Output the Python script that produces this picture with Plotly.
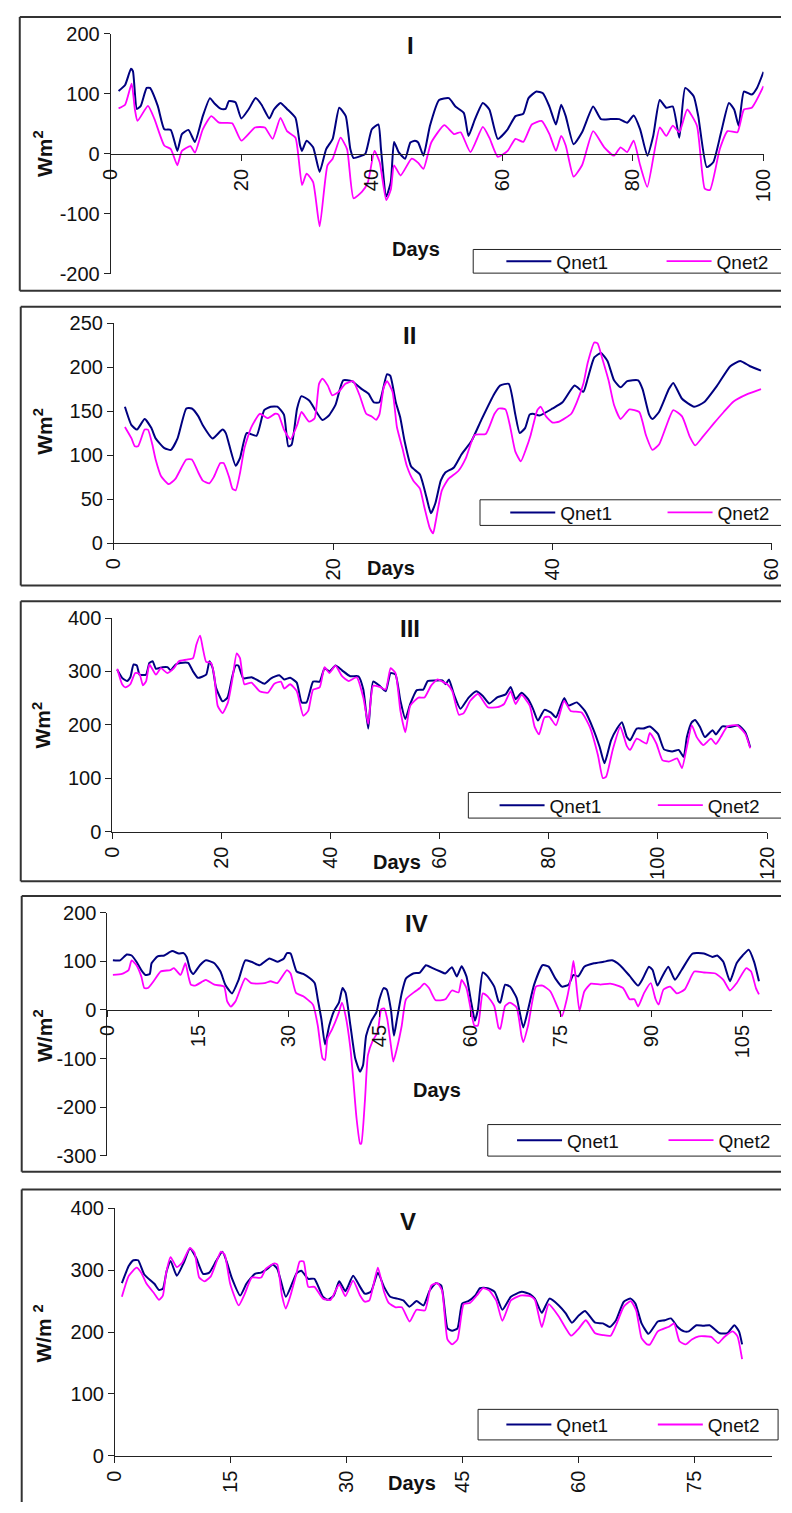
import plotly.graph_objects as go

W, H = 792, 1513
NAVY = "#000080"
MAGENTA = "#FF00FF"
FONT = "Liberation Sans, Arial, sans-serif"

# ---- Net heat flux series: (day, W/m^2) ----
P1_QNET1 = [(1.2, 105), (2.2, 115), (3.1, 142), (3.4, 138), (4.0, 75), (4.6, 80), (5.5, 110), (6.0, 110),
            (7.2, 80), (8.2, 41), (9.2, 40), (10.2, 5), (10.9, 33), (11.9, 40), (12.9, 20), (14.1, 63),
            (15.2, 93), (15.9, 84), (16.9, 75), (17.6, 75), (18.1, 88), (19.1, 86), (20.0, 59), (21.1, 74),
            (22.2, 93), (23.1, 82), (24.3, 59), (25.0, 74), (26.0, 85), (27.0, 75), (28.3, 60), (29.0, 14),
            (29.3, 5), (30.0, 22), (31.0, 11), (32.0, -30), (33.0, 8), (34.0, 25), (35.0, 77), (36.0, 63),
            (36.7, 8), (37.2, -7), (38.2, -4), (39.0, 0), (40.0, 41), (41.0, 49), (41.4, 8), (42.2, -71),
            (42.9, -47), (43.4, 20), (44.1, 3), (45.1, -8), (45.9, 19), (46.6, 22), (47.1, 19), (47.9, -3),
            (48.9, 47), (50.3, 90), (51.8, 93), (52.8, 79), (54.1, 68), (54.8, 30), (55.8, 58), (57.0, 85),
            (58.0, 74), (59.3, 25), (60.8, 41), (62.0, 63), (63.2, 67), (64.0, 93), (65.2, 104), (66.2, 101),
            (67.2, 79), (68.2, 49), (69.0, 82), (69.7, 63), (70.9, 16), (72.2, 36), (73.9, 79), (75.1, 58),
            (76.6, 58), (77.9, 58), (79.1, 52), (80.1, 64), (81.1, 41), (82.2, -3), (83.1, 30), (84.1, 90),
            (85.1, 77), (86.1, 79), (87.1, 27), (88.0, 110), (89.3, 96), (90.0, 63), (91.3, -22), (92.3, -14),
            (93.5, 36), (94.7, 85), (95.5, 74), (96.2, 47), (97.0, 104), (98.2, 99), (99.0, 110), (100.0, 137)]
P1_QNET2 = [(1.2, 76), (2.2, 82), (3.2, 117), (3.7, 74), (4.1, 55), (5.7, 80), (6.7, 58), (8.2, 14),
            (9.2, 8), (10.2, -19), (10.9, 5), (12.2, 13), (12.9, 2), (14.1, 41), (15.4, 63), (16.6, 52),
            (18.6, 51), (20.0, 22), (22.1, 44), (23.6, 44), (24.8, 25), (26.0, 60), (27.0, 38), (28.3, 27),
            (29.3, -52), (30.0, -33), (31.0, -47), (32.0, -121), (33.2, -19), (34.0, -8), (35.2, 27), (36.2, 8),
            (37.2, -74), (38.5, -63), (39.4, -47), (40.4, 5), (41.2, -14), (42.2, -77), (42.9, -60), (43.4, -19),
            (44.4, -36), (46.1, -8), (47.1, -15), (47.9, -25), (49.1, 19), (51.1, 48), (52.6, 33), (53.6, 36),
            (55.1, 3), (57.0, 45), (58.0, 27), (59.3, -5), (60.8, 5), (62.0, 25), (63.2, 20), (64.5, 49),
            (66.0, 55), (67.2, 33), (68.2, 5), (69.0, 30), (69.7, 14), (70.9, -38), (72.2, -19), (73.9, 38),
            (75.6, 11), (77.1, -3), (78.1, 11), (79.1, 3), (80.1, 22), (81.1, -19), (82.2, -55), (84.1, 44),
            (85.1, 30), (86.1, 47), (87.1, 36), (88.3, 74), (89.8, 47), (91.0, -58), (91.8, -60), (93.3, 8),
            (94.5, 38), (96.0, 36), (97.0, 74), (98.2, 77), (100.0, 113)]

P2_QNET1 = [(1.0, 155), (1.6, 134), (2.1, 129), (2.8, 141), (3.4, 131), (3.8, 119), (4.6, 108), (5.2, 106),
            (5.8, 119), (6.6, 153), (7.1, 153), (7.7, 144), (8.1, 134), (9.0, 119), (9.9, 129), (10.2, 125),
            (10.5, 112), (11.1, 88), (11.5, 97), (12.1, 125), (13.0, 122), (13.7, 151), (14.3, 155), (14.9, 155),
            (15.5, 146), (15.9, 110), (16.2, 112), (16.7, 153), (17.1, 167), (17.8, 162), (19.0, 140), (19.6, 145),
            (20.2, 157), (20.9, 185), (21.7, 184), (22.6, 175), (23.2, 170), (23.7, 160), (24.2, 160), (24.9, 192),
            (25.2, 190), (25.7, 160), (26.1, 143), (26.5, 116), (27.1, 87), (27.9, 78), (28.5, 52), (28.9, 34),
            (29.3, 45), (29.8, 71), (30.2, 80), (31.0, 86), (31.7, 101), (32.6, 116), (33.5, 140), (34.7, 170),
            (35.2, 179), (36.0, 181), (36.6, 146), (37.0, 125), (37.5, 131), (37.9, 146), (38.2, 147), (38.8, 145),
            (40.0, 153), (40.9, 160), (42.0, 179), (42.8, 172), (43.2, 187), (43.8, 211), (44.4, 216), (45.0, 207),
            (45.6, 185), (46.2, 177), (46.8, 184), (47.8, 185), (48.2, 175), (48.8, 146), (49.1, 141), (49.7, 149),
            (50.6, 175), (51.0, 182), (51.8, 164), (52.9, 155), (53.8, 160), (55.0, 179), (56.2, 201), (57.1, 207),
            (58.0, 201), (59.0, 196)]
P2_QNET2 = [(1.0, 132), (1.6, 119), (1.9, 110), (2.2, 110), (2.8, 129), (3.1, 129), (3.5, 112), (3.8, 95),
            (4.3, 76), (5.0, 67), (5.6, 73), (6.6, 95), (7.1, 95), (7.7, 80), (8.1, 71), (8.7, 68), (9.1, 75),
            (9.7, 91), (10.0, 91), (10.5, 75), (10.8, 62), (11.1, 60), (11.5, 80), (11.9, 108), (12.5, 131),
            (13.3, 147), (14.0, 142), (14.7, 147), (15.0, 146), (15.5, 129), (16.1, 118), (16.7, 134), (17.1, 149),
            (17.8, 138), (18.3, 142), (18.7, 181), (19.0, 187), (19.5, 179), (19.9, 168), (20.5, 172), (21.1, 181),
            (21.8, 184), (22.4, 168), (23.0, 147), (23.5, 144), (23.9, 140), (24.2, 146), (24.6, 177), (24.9, 184),
            (25.4, 172), (25.8, 132), (26.3, 108), (26.7, 88), (27.3, 71), (27.9, 62), (28.3, 41), (28.8, 17),
            (29.1, 11), (29.3, 22), (29.9, 60), (30.5, 73), (31.4, 82), (32.1, 97), (32.9, 123), (33.9, 124),
            (34.7, 147), (35.1, 153), (35.7, 152), (36.1, 134), (36.6, 104), (37.1, 93), (37.6, 108), (38.0, 123),
            (38.6, 151), (38.9, 155), (39.4, 144), (40.0, 137), (40.6, 138), (41.7, 147), (42.2, 160), (42.8, 181),
            (43.2, 205), (43.8, 228), (44.1, 227), (44.5, 211), (45.1, 185), (45.6, 157), (46.2, 141), (47.0, 152),
            (47.9, 149), (48.5, 123), (49.1, 106), (49.7, 112), (50.3, 131), (51.0, 151), (51.8, 144), (52.5, 121),
            (53.0, 111), (53.7, 121), (54.7, 136), (55.6, 149), (56.5, 161), (57.7, 169), (59.0, 175)]

P3_QNET1 = [(0.9, 303), (1.8, 288), (2.7, 282), (3.3, 289), (3.9, 313), (4.5, 311), (5.0, 294), (6.2, 294),
            (6.8, 316), (7.4, 319), (8.0, 305), (9.2, 308), (10.1, 308), (10.7, 302), (11.6, 313), (12.5, 316),
            (13.9, 316), (14.8, 300), (15.7, 288), (17.2, 294), (17.8, 319), (18.4, 306), (19.0, 270), (20.2, 244),
            (21.1, 251), (22.0, 291), (22.6, 311), (23.1, 311), (24.0, 287), (25.5, 289), (26.7, 283), (27.9, 277),
            (29.1, 287), (30.6, 293), (31.5, 285), (32.6, 288), (33.8, 279), (34.7, 242), (35.6, 242), (36.8, 281),
            (38.0, 281), (38.9, 306), (39.8, 300), (40.9, 311), (42.1, 302), (43.6, 291), (45.1, 291), (46.0, 266),
            (46.9, 193), (47.8, 281), (49.0, 273), (50.1, 263), (51.0, 297), (51.9, 294), (52.8, 245), (53.7, 211),
            (54.6, 239), (55.8, 265), (57.0, 266), (57.8, 282), (59.3, 283), (60.5, 283), (61.1, 276), (61.7, 285),
            (62.6, 257), (63.8, 230), (65.3, 251), (66.7, 263), (67.9, 254), (69.1, 240), (70.6, 252), (72.1, 257),
            (73.0, 271), (73.9, 248), (75.0, 260), (76.2, 248), (77.1, 230), (78.0, 208), (79.2, 228), (80.4, 223),
            (81.3, 214), (82.8, 250), (83.6, 236), (85.1, 242), (86.6, 226), (88.1, 193), (89.3, 159), (90.2, 128),
            (91.4, 171), (92.5, 193), (93.4, 205), (94.3, 177), (94.9, 171), (96.1, 193), (97.3, 193), (98.5, 197),
            (100.0, 183), (101.1, 154), (102.6, 150), (103.8, 153), (104.7, 140), (105.3, 177), (106.2, 205),
            (106.8, 209), (107.7, 196), (108.6, 177), (110.0, 190), (110.6, 182), (111.8, 197), (113.3, 196),
            (114.8, 199), (116.0, 186), (116.9, 158)]
P3_QNET2 = [(0.9, 305), (1.8, 276), (2.4, 270), (3.3, 276), (4.2, 297), (5.0, 295), (5.6, 274), (6.2, 282),
            (6.8, 313), (8.0, 294), (8.9, 306), (10.1, 297), (11.3, 306), (12.2, 319), (13.6, 322), (14.8, 325),
            (15.4, 350), (16.1, 367), (16.6, 343), (17.2, 318), (18.1, 316), (18.7, 291), (19.3, 236), (20.2, 222),
            (21.2, 242), (22.0, 285), (22.8, 334), (23.4, 325), (24.2, 276), (25.5, 279), (27.0, 263), (28.5, 260),
            (29.7, 277), (30.9, 281), (31.5, 268), (32.6, 276), (33.8, 263), (35.0, 217), (35.9, 226), (36.8, 266),
            (38.0, 270), (38.9, 308), (39.8, 297), (40.9, 311), (42.1, 291), (43.3, 282), (44.8, 289), (46.0, 251),
            (46.9, 202), (47.8, 273), (49.0, 271), (50.1, 266), (51.0, 306), (51.9, 297), (52.8, 226), (53.7, 186),
            (54.6, 236), (56.1, 251), (57.2, 251), (58.4, 273), (59.6, 285), (60.5, 281), (61.4, 276), (62.3, 263),
            (63.5, 219), (64.4, 222), (65.6, 245), (67.0, 258), (68.8, 233), (70.6, 233), (71.8, 239), (73.0, 263),
            (73.9, 239), (75.0, 256), (76.5, 236), (77.4, 196), (78.2, 182), (79.2, 214), (80.1, 215), (81.3, 199),
            (82.8, 245), (84.0, 226), (86.0, 223), (87.5, 196), (89.0, 143), (89.9, 100), (90.5, 103), (91.7, 153),
            (93.1, 196), (94.3, 160), (94.9, 153), (96.1, 174), (97.9, 165), (98.5, 185), (99.7, 165), (100.8, 134),
            (102.0, 131), (103.5, 137), (104.4, 119), (105.3, 159), (106.2, 199), (107.1, 177), (108.3, 162),
            (109.7, 174), (110.6, 164), (111.5, 177), (112.7, 197), (114.5, 199), (116.0, 183), (116.9, 156)]

P4_QNET1 = [(0.9, 102), (2.1, 102), (3.2, 114), (4.0, 112), (4.8, 99), (5.6, 82), (6.3, 72), (7.0, 74),
            (7.3, 96), (8.3, 110), (9.4, 112), (10.7, 121), (11.8, 116), (12.6, 117), (13.1, 109), (13.7, 82),
            (14.2, 74), (15.3, 92), (16.3, 102), (17.7, 96), (18.7, 79), (19.5, 52), (20.6, 34), (21.7, 62),
            (22.8, 102), (23.8, 99), (25.2, 92), (26.8, 106), (28.1, 99), (29.2, 106), (29.7, 117), (30.3, 116),
            (31.3, 79), (32.4, 74), (33.5, 65), (34.3, 55), (34.8, 22), (35.4, -19), (36.0, -71), (36.7, -32),
            (37.5, -2), (38.3, 15), (38.9, 45), (39.4, 35), (40.2, -32), (41.0, -100), (41.8, -127), (42.3, -113),
            (42.8, -53), (43.7, -22), (44.5, -5), (45.0, 22), (45.7, 45), (46.2, 42), (46.9, 1), (47.4, -53),
            (47.9, -19), (48.7, 35), (49.4, 65), (50.6, 75), (51.7, 77), (52.7, 92), (53.8, 86), (55.1, 79),
            (55.9, 75), (57.0, 88), (57.8, 69), (58.6, 90), (59.4, 69), (60.2, 15), (60.8, -22), (61.3, 1),
            (62.1, 77), (62.9, 69), (64.0, 48), (64.7, 18), (65.0, 15), (65.8, 52), (66.6, 48), (67.7, 25),
            (68.8, -36), (69.6, 1), (70.6, 52), (72.0, 92), (73.0, 89), (74.1, 65), (75.2, 48), (76.3, 52),
            (77.1, 72), (77.9, 69), (78.9, 89), (80.5, 96), (82.1, 99), (83.5, 102), (84.8, 92), (86.4, 70),
            (87.8, 50), (88.6, 65), (89.6, 89), (90.2, 82), (91.0, 50), (91.8, 69), (92.8, 89), (93.9, 62),
            (95.0, 82), (96.8, 116), (98.7, 116), (100.1, 109), (100.9, 112), (101.9, 99), (103.0, 59),
            (104.1, 96), (105.1, 112), (106.1, 124), (107.0, 99), (107.8, 59)]
P4_QNET2 = [(0.9, 72), (2.4, 74), (3.5, 82), (4.0, 102), (4.8, 92), (5.6, 69), (6.1, 45), (6.7, 45),
            (7.8, 62), (8.8, 79), (10.4, 82), (11.0, 86), (12.1, 72), (12.9, 96), (13.4, 69), (13.8, 52),
            (14.5, 50), (15.8, 59), (16.3, 62), (17.7, 52), (19.3, 48), (19.8, 18), (20.4, 7), (21.2, 18),
            (22.8, 65), (23.8, 55), (26.0, 55), (27.0, 59), (28.1, 55), (29.7, 82), (30.3, 75), (31.2, 35),
            (32.4, 28), (34.0, 11), (34.8, -32), (35.6, -100), (36.0, -103), (36.4, -59), (37.2, -39), (38.3, -5),
            (38.8, 15), (39.4, -12), (40.2, -79), (40.7, -147), (41.2, -221), (41.8, -275), (42.0, -275),
            (42.6, -187), (43.1, -93), (43.9, -63), (44.7, -46), (45.3, 1), (45.8, 3), (46.3, -19), (46.9, -73),
            (47.3, -106), (47.9, -79), (48.7, -32), (49.4, 22), (50.9, 38), (51.7, 45), (52.4, 54), (53.2, 45),
            (54.3, 20), (55.9, 22), (57.0, 40), (58.1, 36), (58.6, 62), (59.4, 45), (60.2, -5), (60.7, -32),
            (61.3, -32), (62.1, 34), (62.9, 28), (64.0, 8), (64.7, -36), (65.0, -39), (65.8, 8), (66.6, 15),
            (67.7, 5), (68.5, -53), (68.8, -66), (69.6, -32), (70.9, 48), (72.0, 50), (73.3, 38), (74.4, 8),
            (75.2, -13), (76.0, 22), (76.8, 75), (77.1, 101), (77.4, 75), (78.1, -2), (78.9, 38), (80.0, 54),
            (81.6, 52), (83.2, 54), (85.3, 45), (86.4, 22), (87.2, 22), (87.8, 7), (88.8, 35), (89.9, 55),
            (90.7, 22), (91.2, 11), (92.0, 42), (93.1, 48), (94.2, 34), (95.5, 42), (97.1, 79), (98.7, 77),
            (100.6, 75), (101.9, 62), (103.0, 40), (104.1, 55), (105.7, 86), (106.5, 79), (107.3, 45), (107.8, 32)]

P5_QNET1 = [(0.9, 279), (1.8, 307), (2.4, 316), (3.0, 316), (3.8, 293), (5.1, 278), (5.7, 268), (6.2, 270),
            (6.7, 299), (7.2, 315), (8.0, 291), (8.9, 312), (9.7, 335), (10.5, 320), (11.4, 294), (12.2, 296),
            (13.1, 315), (13.9, 330), (14.5, 312), (15.1, 288), (16.2, 259), (17.0, 278), (18.1, 294), (18.9, 296),
            (19.7, 302), (20.4, 309), (21.0, 302), (22.1, 257), (22.9, 278), (23.5, 295), (24.1, 299), (25.0, 286),
            (25.8, 286), (26.9, 257), (27.5, 252), (28.3, 259), (29.0, 282), (29.8, 266), (30.8, 291), (31.7, 273),
            (32.3, 262), (33.1, 265), (34.0, 296), (34.8, 273), (35.6, 257), (36.5, 254), (37.3, 251), (38.1, 241),
            (39.0, 250), (39.9, 243), (40.7, 267), (41.5, 279), (42.2, 275), (43.0, 206), (43.6, 202), (44.3, 206),
            (44.9, 246), (45.7, 250), (46.6, 259), (47.2, 271), (48.2, 271), (49.1, 265), (50.1, 236), (51.2, 257),
            (52.6, 265), (53.7, 261), (54.3, 254), (55.2, 231), (56.2, 254), (57.4, 243), (58.3, 230), (59.1, 215),
            (60.0, 227), (60.8, 234), (62.1, 215), (63.1, 214), (64.0, 208), (64.8, 219), (65.8, 249), (66.7, 254),
            (67.3, 246), (68.1, 214), (69.0, 197), (70.2, 217), (71.1, 219), (71.9, 222), (72.7, 209), (73.6, 201),
            (74.2, 201), (75.2, 211), (76.1, 210), (76.9, 211), (78.2, 198), (79.2, 198), (80.1, 211), (80.7, 201),
            (81.1, 180)]
P5_QNET2 = [(0.9, 257), (1.8, 291), (2.8, 304), (3.4, 296), (4.1, 278), (5.1, 262), (5.7, 252), (6.2, 259),
            (6.6, 294), (7.2, 321), (8.0, 305), (8.7, 312), (9.7, 336), (10.3, 328), (10.9, 288), (11.6, 282),
            (12.4, 290), (13.7, 330), (14.2, 325), (14.9, 278), (16.0, 243), (16.8, 262), (17.7, 288), (18.9, 288),
            (19.5, 302), (20.6, 311), (21.0, 309), (21.6, 259), (22.1, 238), (22.7, 259), (23.5, 296), (23.9, 314),
            (24.4, 314), (25.0, 273), (25.8, 273), (26.9, 254), (27.9, 252), (29.0, 277), (29.8, 258), (30.8, 283),
            (31.7, 259), (32.3, 249), (32.9, 251), (34.0, 304), (34.8, 265), (35.4, 247), (36.3, 240), (37.1, 240),
            (38.1, 217), (39.0, 236), (40.1, 235), (40.9, 275), (41.7, 279), (42.3, 267), (43.0, 188), (43.6, 180),
            (44.3, 188), (45.1, 245), (45.9, 247), (46.8, 259), (47.6, 271), (48.4, 267), (49.3, 251), (50.1, 218),
            (51.2, 251), (52.4, 259), (53.7, 258), (54.3, 252), (55.2, 208), (56.1, 245), (57.4, 225), (59.0, 194),
            (60.0, 206), (60.9, 219), (62.1, 198), (63.1, 195), (64.1, 194), (64.8, 211), (65.8, 241), (66.7, 250),
            (67.4, 235), (68.1, 190), (68.8, 180), (69.2, 180), (70.2, 201), (71.7, 209), (72.3, 214), (73.0, 185),
            (73.8, 180), (74.6, 188), (75.5, 193), (77.1, 192), (78.0, 182), (78.8, 192), (79.9, 201), (80.5, 193),
            (81.1, 156)]

SERIES_NAMES = ["Qnet1", "Qnet2"]

# ---- pixel geometry of each chart block ----
# frame = (left, top, bottom) ; bottom None -> runs off the bottom edge
PANELS = [
    dict(label="I", series=(P1_QNET1, P1_QNET2), xr=(0, 100), xstep=20, yr=(-200, 200), ystep=100,
         plot=(101.7, 23.3, 774.0, 266.7), frame=(8, 6, 284), cross_zero=True,
         ytitle="Wm<sup>2</sup>", ytitle_pos=(32, 145), title_pos=(410, 35), days_pos=(416, 242),
         legend_box=(475, 242, None, 266), legend_x=(504, 669)),
    dict(label="II", series=(P2_QNET1, P2_QNET2), xr=(0, 60), xstep=20, yr=(0, 250), ystep=50,
         plot=(105.0, 316.7, 782.7, 540.0), frame=(9, 300, 583), cross_zero=False,
         ytitle="Wm<sup>2</sup>", ytitle_pos=(32, 427), title_pos=(409, 329), days_pos=(390, 565),
         legend_box=(482, 496, None, 522), legend_x=(508, 670)),
    dict(label="III", series=(P3_QNET1, P3_QNET2), xr=(0, 120), xstep=20, yr=(0, 400), ystep=100,
         plot=(103.3, 616.0, 777.7, 832.7), frame=(9, 599, 883), cross_zero=False,
         ytitle="Wm<sup>2</sup>", ytitle_pos=(31, 725), title_pos=(410, 627), days_pos=(396, 864),
         legend_box=(470, 793, None, 819), legend_x=(497, 660)),
    dict(label="IV", series=(P4_QNET1, P4_QNET2), xr=(0, 110), xstep=15, yr=(-300, 200), ystep=100,
         plot=(98.3, 915.0, 783.0, 1161.7), frame=(10, 898, 1178), cross_zero=True,
         ytitle="W/m<sup>2</sup>", ytitle_pos=(32, 1040), title_pos=(417, 926), days_pos=(438, 1095),
         legend_box=(490, 1130, None, 1162), legend_x=(515, 671)),
    dict(label="V", series=(P5_QNET1, P5_QNET2), xr=(0, 85), xstep=15, yr=(0, 400), ystep=100,
         plot=(106.0, 1215.0, 783.0, 1466.0), frame=(10, 1196, None), cross_zero=False,
         ytitle="W/m <sup>2</sup>", ytitle_pos=(32, 1342), title_pos=(408, 1228), days_pos=(412, 1494),
         legend_box=(480, 1419, 789, 1450), legend_x=(504, 660)),
]


def px_x(x):
    """pixel -> paper fraction"""
    return x / W


def px_y(y):
    return 1 - y / H


def seg(x0, y0, x1, y1, color="#333", width=2, layer="below"):
    return dict(type="line", xref="paper", yref="paper", layer=layer,
                x0=px_x(x0), y0=px_y(y0), x1=px_x(x1), y1=px_y(y1),
                line=dict(color=color, width=width))


def label(text, pos, size, angle=0):
    return dict(text=text, xref="paper", yref="paper", x=px_x(pos[0]), y=px_y(pos[1]),
                xanchor="center", yanchor="middle", showarrow=False, textangle=angle,
                font=dict(family=FONT, size=size, color="#111"))


fig = go.Figure()
layout = dict(shapes=[], annotations=[])
legend_count = 0

for i, p in enumerate(PANELS, start=1):
    sfx = "" if i == 1 else str(i)
    xref, yref = "x" + sfx, "y" + sfx
    lx0, ly0, lx1, ly1 = p["legend_box"]

    for k, (series, name, color, width) in enumerate(zip(p["series"], SERIES_NAMES,
                                                        (NAVY, MAGENTA), (2.0, 1.8))):
        legend_count += 1
        leg = "legend" + ("" if legend_count == 1 else str(legend_count))
        days = [d for d, _ in series]
        vals = [v for _, v in series]
        fig.add_trace(go.Scatter(x=days, y=vals, mode="lines", name=name,
                                 line=dict(color=color, width=width, shape="spline", smoothing=0.5),
                                 xaxis=xref, yaxis=yref, legend=leg, showlegend=True))
        # one legend per entry so each sits at its own spot inside the box
        layout[leg] = dict(x=px_x(p["legend_x"][k]), y=px_y((ly0 + ly1) / 2),
                           xanchor="left", yanchor="middle", orientation="h",
                           bgcolor="rgba(0,0,0,0)", borderwidth=0, itemwidth=45,
                           font=dict(family=FONT, size=19, color="#111"))

    x0, y0, x1, y1 = p["plot"]
    ymin, ymax = p["yr"]
    xticks = list(range(p["xr"][0], p["xr"][1] + 1, p["xstep"]))
    yticks = list(range(ymin, ymax + 1, p["ystep"]))

    axis_style = dict(showline=True, linecolor="#222", linewidth=1, ticks="outside", ticklen=6,
                      tickcolor="#222", showgrid=False, zeroline=False, ticklabeloverflow="allow",
                      tickfont=dict(family=FONT, size=20, color="#111"))
    xaxis = dict(domain=[px_x(x0), px_x(x1)], range=list(p["xr"]), tickvals=xticks,
                 ticktext=[str(t) for t in xticks], tickangle=-90, **axis_style)
    if p["cross_zero"]:
        zero_px = y0 + (ymax - 0) / (ymax - ymin) * (y1 - y0)
        xaxis.update(anchor="free", position=px_y(zero_px))
    else:
        xaxis.update(anchor=yref)
    yaxis = dict(domain=[px_y(y1), px_y(y0)], range=[ymin, ymax], tickvals=yticks,
                 ticktext=[str(t) for t in yticks], anchor=xref, **axis_style)
    layout["xaxis" + sfx] = xaxis
    layout["yaxis" + sfx] = yaxis

    # frame around each chart block (open on the right, it runs past the edge)
    fl, ft, fb = p["frame"]
    bottom = fb if fb is not None else H
    layout["shapes"].append(seg(fl, ft, W, ft))
    layout["shapes"].append(seg(fl, ft, fl, bottom))
    if fb is not None:
        layout["shapes"].append(seg(fl, fb, W, fb))

    # legend box
    right = lx1 if lx1 is not None else W
    layout["shapes"].append(dict(type="rect", xref="paper", yref="paper", layer="above",
                                 x0=px_x(lx0), x1=px_x(right), y0=px_y(ly1), y1=px_y(ly0),
                                 line=dict(width=0), fillcolor="white"))
    layout["shapes"].append(seg(lx0, ly0, right, ly0, "#222", 1, "above"))
    layout["shapes"].append(seg(lx0, ly1, right, ly1, "#222", 1, "above"))
    layout["shapes"].append(seg(lx0, ly0, lx0, ly1, "#222", 1, "above"))
    if lx1 is not None:
        layout["shapes"].append(seg(lx1, ly0, lx1, ly1, "#222", 1, "above"))

    # panel label, axis titles
    layout["annotations"].append(label("<b>%s</b>" % p["label"], p["title_pos"], 24))
    layout["annotations"].append(label("<b>Days</b>", p["days_pos"], 20))
    layout["annotations"].append(label("<b>%s</b>" % p["ytitle"], p["ytitle_pos"], 21, -90))

fig.update_layout(width=W, height=H, margin=dict(l=0, r=0, t=0, b=0, pad=0),
                  paper_bgcolor="white", plot_bgcolor="white", **layout)

fig.write_html("out.html")
